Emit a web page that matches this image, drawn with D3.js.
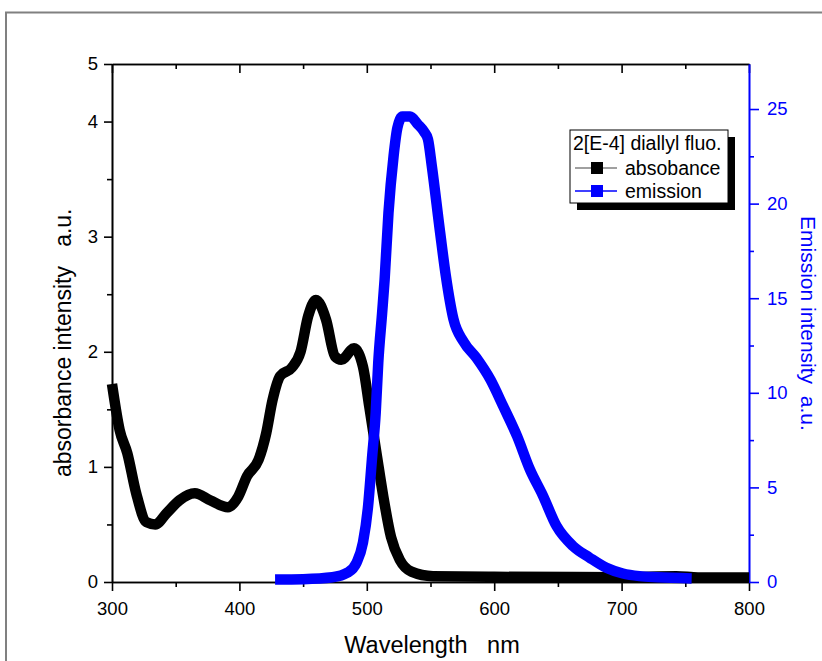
<!DOCTYPE html>
<html>
<head>
<meta charset="utf-8">
<script src="https://cdn.jsdelivr.net/npm/d3@7"></script>
<style>
  body { margin: 0; background: #fff; }
  text { font-family: "Liberation Sans", Arial, sans-serif; }
</style>
</head>
<body>
<div id="chart"></div>
<script>
// absorbance (left axis)
const absWl = [300, 306, 312, 319, 327, 334, 343, 353, 365, 377, 391, 399, 406, 415, 421, 426, 432, 441, 448, 454, 460, 468, 475, 480, 490, 497, 502, 508, 513, 519, 526, 535, 552, 600, 700, 743, 760, 800];
const absVal = [1.72, 1.32, 1.12, 0.77, 0.52, 0.50, 0.60, 0.71, 0.77, 0.71, 0.65, 0.74, 0.92, 1.06, 1.29, 1.58, 1.79, 1.86, 2.0, 2.31, 2.45, 2.28, 1.96, 1.93, 2.03, 1.87, 1.52, 1.09, 0.74, 0.39, 0.19, 0.09, 0.05, 0.045, 0.042, 0.05, 0.04, 0.04];

// emission (right axis)
const emWl = [428, 450, 473, 485, 492, 497, 501, 504, 507, 509, 512, 514, 517, 521, 524, 528, 534, 540, 545, 548, 551, 557.5, 562, 568, 576, 586, 597, 607, 618, 628, 638, 649, 662, 675, 688, 701, 714, 728, 755];
const emVal = [0.13, 0.15, 0.25, 0.5, 1.03, 2.09, 4.0, 6.47, 8.96, 11.6, 14.2, 16.0, 19.5, 22.5, 24.0, 24.6, 24.6, 24.2, 23.8, 23.4, 22.0, 18.5, 16.2, 13.9, 12.7, 11.85, 10.7, 9.3, 7.7, 5.95, 4.6, 2.95, 1.89, 1.28, 0.75, 0.45, 0.31, 0.25, 0.19];

const xTicks = [300, 400, 500, 600, 700, 800];
const xMinor = [350, 450, 550, 650, 750];
const leftTicks = [0, 1, 2, 3, 4, 4.5];
const leftMinor = [0.5, 1.5, 2.5, 3.5];
const rightTicks = [0, 5, 10, 15, 20, 25];
const rightMinor = [2.5, 7.5, 12.5, 17.5, 22.5];

const legendTitle = "2[E-4] diallyl fluo.";
const seriesNames = ["absobance", "emission"];
const seriesColors = ["#000000", "#0000ff"];

const W = 822, H = 661;
const svg = d3.select("#chart").append("svg")
  .attr("width", W).attr("height", H);

svg.append("rect").attr("width", W).attr("height", H).attr("fill", "#fff");
// outer frame
svg.append("rect")
  .attr("x", 6).attr("y", 12.5).attr("width", 1000).attr("height", 1000)
  .attr("fill", "none").attr("stroke", "#808080").attr("stroke-width", 2);

const x = d3.scaleLinear().domain([300, 800]).range([112, 749]);
const yL = d3.scaleLinear().domain([0, 4.5]).range([582, 64]);
const yR = d3.scaleLinear().domain([0, 27.38]).range([582, 64]);

function styleAxis(g, color, fs) {
  g.selectAll("path, line").attr("stroke", color).attr("stroke-width", 1.6);
  g.selectAll("text").attr("fill", color).style("font-size", fs + "px")
    .style("font-family", "Liberation Sans, Arial, sans-serif");
}

const tickFs = 18.5;
// bottom
svg.append("g").attr("transform", "translate(0,582)")
  .call(d3.axisBottom(x).tickValues(xTicks).tickSize(9).tickSizeOuter(0).tickPadding(11).tickFormat(d3.format("d")))
  .call(g => styleAxis(g, "#000", tickFs));
svg.append("g").attr("transform", "translate(0,582)")
  .call(d3.axisBottom(x).tickValues(xMinor).tickSize(5).tickSizeOuter(0).tickFormat(""))
  .call(g => styleAxis(g, "#000", tickFs));
// top
svg.append("g").attr("transform", "translate(0,64)")
  .call(d3.axisTop(x).tickValues(xTicks).tickSize(-9).tickSizeOuter(0).tickFormat(""))
  .call(g => styleAxis(g, "#000", tickFs));
svg.append("g").attr("transform", "translate(0,64)")
  .call(d3.axisTop(x).tickValues(xMinor).tickSize(-5).tickSizeOuter(0).tickFormat(""))
  .call(g => styleAxis(g, "#000", tickFs));
// left
svg.append("g").attr("transform", "translate(112,0)")
  .call(d3.axisLeft(yL).tickValues(leftTicks).tickSize(8).tickSizeOuter(0).tickPadding(6).tickFormat(d3.format(".0f")))
  .call(g => styleAxis(g, "#000", tickFs));
svg.append("g").attr("transform", "translate(112,0)")
  .call(d3.axisLeft(yL).tickValues(leftMinor).tickSize(5).tickSizeOuter(0).tickFormat(""))
  .call(g => styleAxis(g, "#000", tickFs));
// right
svg.append("g").attr("transform", "translate(749,0)")
  .call(d3.axisRight(yR).tickValues(rightTicks).tickSize(10).tickSizeOuter(0).tickPadding(8).tickFormat(d3.format("d")))
  .call(g => styleAxis(g, "#0000ff", tickFs));
svg.append("g").attr("transform", "translate(749,0)")
  .call(d3.axisRight(yR).tickValues(rightMinor).tickSize(5).tickSizeOuter(0).tickFormat(""))
  .call(g => styleAxis(g, "#0000ff", tickFs));

// curves
const absData = absWl.map((w, i) => [w, absVal[i]]);
const emData = emWl.map((w, i) => [w, emVal[i]]);

svg.append("path").datum(absData)
  .attr("fill", "none").attr("stroke", seriesColors[0]).attr("stroke-width", 10.5)
  .attr("stroke-linejoin", "round")
  .attr("d", d3.line().x(d => x(d[0])).y(d => yL(d[1])).curve(d3.curveMonotoneX));

svg.append("path").datum(emData)
  .attr("fill", "none").attr("stroke", seriesColors[1]).attr("stroke-width", 10.5)
  .attr("stroke-linejoin", "round")
  .attr("d", d3.line().x(d => x(d[0])).y(d => yR(d[1])).curve(d3.curveMonotoneX));

// axis titles
svg.append("text").attr("x", 432).attr("y", 653).attr("text-anchor", "middle")
  .style("font-size", "23.5px").style("white-space", "pre").text("Wavelength   nm");
svg.append("text").attr("transform", "translate(71,477) rotate(-90)").attr("text-anchor", "start")
  .style("font-size", "23px").style("white-space", "pre").text("absorbance intensity   a.u.");
svg.append("text").attr("transform", "translate(801,216) rotate(90)").attr("text-anchor", "start")
  .attr("fill", "#0000ff")
  .style("font-size", "21px").style("white-space", "pre").text("Emission intensity  a.u.");

// legend
const lg = svg.append("g").attr("transform", "translate(570,130)");
lg.append("rect").attr("x", 7).attr("y", 7).attr("width", 158).attr("height", 73).attr("fill", "#000");
lg.append("rect").attr("x", 0).attr("y", 0).attr("width", 158).attr("height", 73)
  .attr("fill", "#fff").attr("stroke", "#000").attr("stroke-width", 1);
lg.append("text").attr("x", 3).attr("y", 20).style("font-size", "19.5px").text(legendTitle);
seriesNames.forEach((name, i) => {
  const cy = 38 + i * 23;
  lg.append("line").attr("x1", 5).attr("x2", 47).attr("y1", cy).attr("y2", cy)
    .attr("stroke", i === 0 ? "#808080" : seriesColors[i]).attr("stroke-width", 1.5);
  lg.append("rect").attr("x", 21).attr("y", cy - 6).attr("width", 12).attr("height", 12)
    .attr("fill", seriesColors[i]);
  lg.append("text").attr("x", 55).attr("y", cy + 7).style("font-size", "19.5px").text(name);
});
</script>
</body>
</html>
